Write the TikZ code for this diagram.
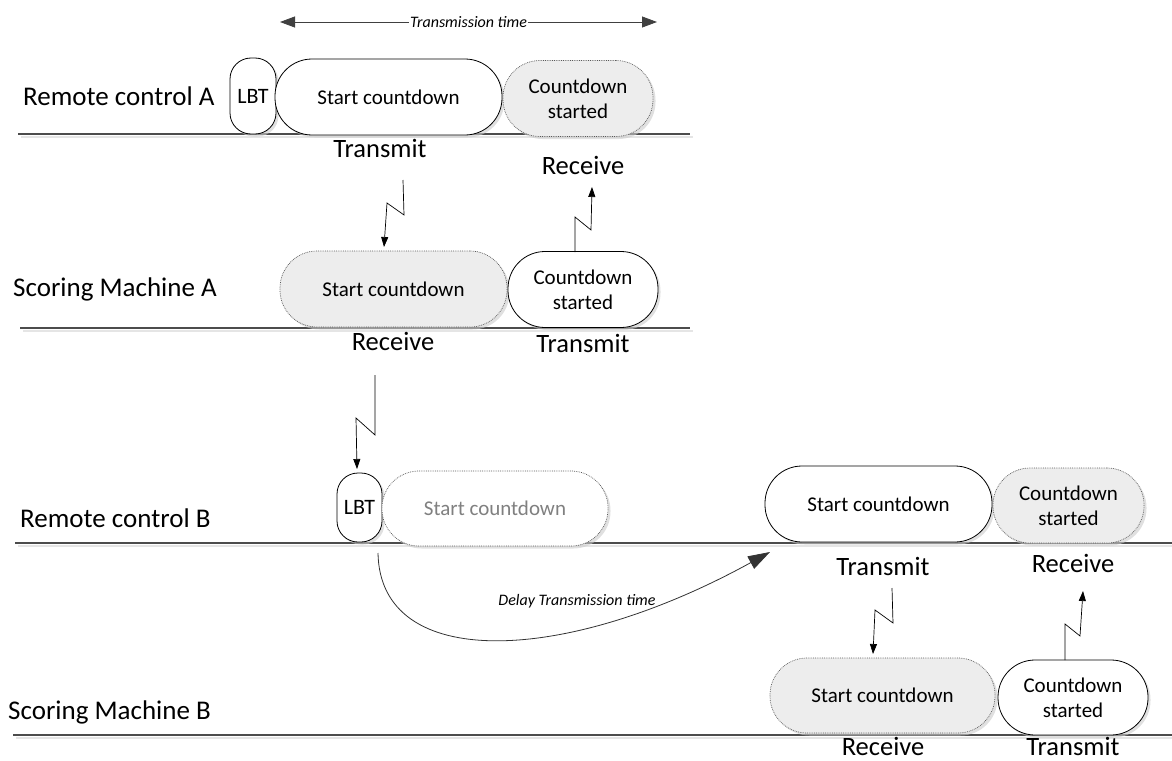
\documentclass[tikz,border=0pt]{standalone}
\usepackage{fontspec}
\setmainfont{Carlito}
\usetikzlibrary{arrows.meta,shadows,calc}
\begin{document}
\begin{tikzpicture}[x=1pt,y=-1pt,
  lbl/.style={font=\fontsize{26.5}{30}\selectfont, inner sep=0pt, anchor=base},
  rowlbl/.style={font=\fontsize{27}{30}\selectfont, inner sep=0pt, anchor=base west},
  shad/.style={drop shadow={shadow xshift=2.5pt, shadow yshift=-2.5pt, fill=black!20, opacity=0.6}},
  box/.style={shad, draw=black, line width=0.8pt, fill=white, inner sep=0pt, align=center,
    font=\fontsize{21}{25}\selectfont, minimum width=227pt, minimum height=76pt, rounded corners=37pt},
  cbox/.style={box, minimum width=150pt},
  graybox/.style={draw=black!65, densely dotted, line width=0.7pt, fill=black!7},
  lbtbox/.style={box, minimum width=46pt, minimum height=76pt, rounded corners=21pt, font=\fontsize{22}{26}\selectfont},
  ghost/.style={box, draw=black!65, densely dotted, line width=0.7pt, text=black!50},
  tl/.style={draw=black!70, line width=1.1pt},
  tlshadow/.style={draw=black!10, line width=2pt},
  bolt/.style={draw=black, line width=0.7pt, -{Triangle[length=10pt,width=7pt]}},
  bigarrow/.style={draw=black!75, line width=0.8pt, {Triangle[length=15pt,width=11pt]}-{Triangle[length=15pt,width=11pt]}},
  curvearrow/.style={draw=black!80, line width=0.8pt, -{Triangle[length=22pt,width=14pt]}},
  small/.style={font=\fontsize{16}{18}\selectfont\itshape, inner sep=1pt}
]
\useasboundingbox (0,0) rectangle (1172,760);

% ---------- time lines ----------
\coordinate (la1) at (18,134);  \coordinate (la2) at (690,134);
\coordinate (lb1) at (20,328);  \coordinate (lb2) at (690,328);
\coordinate (lc1) at (15,543);  \coordinate (lc2) at (1172,543);
\coordinate (ld1) at (13,735);  \coordinate (ld2) at (1172,735);
\foreach \p in {a,b,c,d}{
  \draw[tlshadow] ($(l\p1)+(3,3)$) -- ($(l\p2)+(3,3)$);
  \draw[tl] (l\p1) -- (l\p2);
}

% ---------- row labels ----------
\node[rowlbl] (rcA) at (23,105) {Remote control A};
\node[rowlbl] (smA) at (13,296) {Scoring Machine A};
\node[rowlbl] (rcB) at (20,527) {Remote control B};
\node[rowlbl] (smB) at (8,719) {Scoring Machine B};

% ---------- Transmission time ----------
\coordinate (tt1) at (280,22);
\coordinate (tt2) at (657,22);
\draw[bigarrow] (tt1) -- (tt2) node[midway, fill=white, small] (ttl) {Transmission time};

% ---------- Remote control A ----------
\node[lbtbox] (lbtA) at (253,96) {LBT};
\node[box] (scA) at (388.5,97) {Start countdown};
\node[cbox, graybox] (csA) at (578,98.5) {Countdown\\started};
\node[lbl] (txA) at (380,157) {Transmit};
\node[lbl] (rxA) at (583,174) {Receive};

% ---------- Scoring machine A ----------
\node[box, graybox] (scSA) at (393.5,289) {Start countdown};
\node[cbox] (csSA) at (583,289.5) {Countdown\\started};
\node[lbl] (rxSA) at (393,350) {Receive};
\node[lbl] (txSA) at (583,352) {Transmit};

% ---------- Remote control B ----------
\node[lbtbox, minimum width=45pt, minimum height=69pt] (lbtB) at (359.5,507.5) {LBT};
\node[ghost, minimum width=226pt, minimum height=75pt] (ghB) at (495,508.5) {Start countdown};
\node[box] (scB) at (878.5,504) {Start countdown};
\node[cbox, graybox, minimum width=151pt, minimum height=75pt] (csB) at (1068.5,505.5) {Countdown\\started};
\node[lbl] (txB) at (883,575) {Transmit};
\node[lbl] (rxB) at (1073,572) {Receive};

% ---------- Scoring machine B ----------
\node[box, graybox, minimum width=225pt, minimum height=75pt] (scSB) at (882.5,695.5) {Start countdown};
\node[cbox, minimum height=75pt] (csSB) at (1073,697.5) {Countdown\\started};
\node[lbl] (rxSB) at (883,755) {Receive};
\node[lbl] (txSB) at (1073,755) {Transmit};

% ---------- lightning connectors ----------
\coordinate (b1s) at (403,180);
\draw[bolt] (b1s) -- (404,215) -- (387,203) -- (384,247);
\coordinate (b2s) at (575,252);
\draw[bolt] (b2s) -- (575,217) -- (591,230) -- (592,187);
\coordinate (b3s) at (375,375);
\draw[bolt] (b3s) -- (375,435) -- (356,418) -- (357,469);
\coordinate (b4s) at (892,588);
\draw[bolt] (b4s) -- (893,623) -- (875,610) -- (873,654);
\coordinate (b5s) at (1065,660);
\draw[bolt] (b5s) -- (1065,624) -- (1080,636) -- (1083,591);

% ---------- delay curve ----------
\coordinate (dl1) at (378,553);
\coordinate (dl2) at (770,552);
\draw[curvearrow] (dl1) .. controls (380,672) and (565,665) .. (dl2);
\node[small, anchor=base] (dlt) at (577,605) {Delay Transmission time};
\end{tikzpicture}
\end{document}
